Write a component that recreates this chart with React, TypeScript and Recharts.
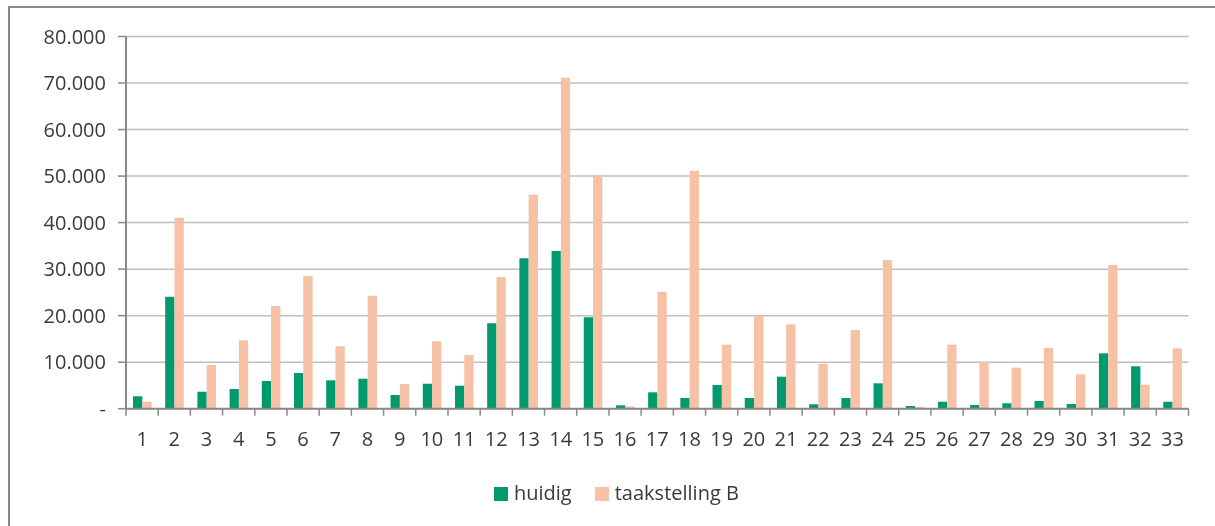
import { BarChart, Bar, XAxis, YAxis, CartesianGrid } from "recharts";

const categories = [
  "1", "2", "3", "4", "5", "6", "7", "8", "9", "10", "11",
  "12", "13", "14", "15", "16", "17", "18", "19", "20", "21", "22",
  "23", "24", "25", "26", "27", "28", "29", "30", "31", "32", "33",
];

const huidig = [
  2670, 24070, 3650, 4230, 5950, 7670, 6100, 6450, 2940, 5370, 4940,
  18350, 32330, 33900, 19640, 730, 3520, 2300, 5090, 2300, 6880, 950,
  2300, 5460, 580, 1500, 800, 1160, 1650, 1010, 11900, 9110, 1500,
];

const taakstellingB = [
  1500, 41050, 9390, 14700, 22070, 28520, 13410, 24290, 5310, 14490, 11540,
  28310, 46000, 71140, 50100, 500, 25150, 51160, 13760, 19920, 18140, 9670,
  16920, 31960, 370, 13760, 10040, 8810, 13050, 7390, 30890, 5160, 12980,
];

const yTicks = [0, 10000, 20000, 30000, 40000, 50000, 60000, 70000, 80000];

const SERIES = [
  { key: "huidig", label: "huidig", color: "#009A6E" },
  { key: "taakstellingB", label: "taakstelling B", color: "#F7C1A5" },
];

const data = categories.map((name, i) => ({
  name,
  huidig: huidig[i],
  taakstellingB: taakstellingB[i],
}));

const FONT = "'Open Sans', sans-serif";
const TEXT = "#3a3a3a";
const AXIS = "#898989";
const FS = 20;

const W = 1207;
const H = 520;
const MARGIN = { top: 30.5, right: 26.5, bottom: 77.3, left: 0 };
const Y_WIDTH = 118;
const PLOT_W = W - MARGIN.left - MARGIN.right - Y_WIDTH;
const BAND = PLOT_W / categories.length;

const fmtY = (v: number) => (v === 0 ? "-" : `${v / 1000}.000`);

function XTick(props: any) {
  const { x, y, payload, index } = props;
  const last = index === categories.length - 1;
  return (
    <g>
      <line x1={x - BAND / 2} y1={y} x2={x - BAND / 2} y2={y + 7} stroke={AXIS} strokeWidth={1.5} />
      {last && (
        <line x1={x + BAND / 2} y1={y} x2={x + BAND / 2} y2={y + 7} stroke={AXIS} strokeWidth={1.5} />
      )}
      <text x={x} y={y + 37} textAnchor="middle" fontSize={FS} fill={TEXT} fontFamily={FONT}>
        {payload.value}
      </text>
    </g>
  );
}

export default function App() {
  return (
    <div
      style={{
        position: "fixed",
        left: 8,
        top: 6,
        width: W,
        height: H,
        fontFamily: FONT,
        overflow: "hidden",
      }}
    >
      <BarChart width={W} height={H} data={data} margin={MARGIN} barGap={0} barSize={9.3}>
        <CartesianGrid vertical={false} stroke="#BFBFBF" strokeWidth={1.5} />
        <XAxis
          dataKey="name"
          height={40}
          tickSize={0}
          tickMargin={0}
          interval={0}
          tickLine={false}
          axisLine={{ stroke: AXIS, strokeWidth: 2 }}
          tick={<XTick />}
        />
        <YAxis
          width={Y_WIDTH}
          domain={[0, 80000]}
          ticks={yTicks}
          interval={0}
          tickFormatter={fmtY}
          tickSize={8}
          tickMargin={12}
          tickLine={{ stroke: AXIS, strokeWidth: 1.5 }}
          axisLine={{ stroke: AXIS, strokeWidth: 2 }}
          tick={{ fontSize: FS, fill: TEXT, fontFamily: FONT }}
        />
        {SERIES.map((s) => (
          <Bar key={s.key} dataKey={s.key} name={s.label} fill={s.color} isAnimationActive={false} />
        ))}
      </BarChart>
      {/* frame: only top and left edges fall inside the window */}
      <div style={{ position: "absolute", left: 0, top: 0, width: W, height: 2, background: AXIS }} />
      <div style={{ position: "absolute", left: 0, top: 0, width: 2, height: H, background: AXIS }} />
      <div
        style={{
          position: "absolute",
          left: 486,
          top: 474,
          display: "flex",
          alignItems: "center",
          fontSize: FS,
          lineHeight: "26px",
          color: TEXT,
        }}
      >
        {SERIES.map((s, i) => (
          <div key={s.key} style={{ display: "flex", alignItems: "center", marginLeft: i === 0 ? 0 : 23 }}>
            <span style={{ width: 14, height: 14, background: s.color, marginRight: 6, marginTop: 2 }} />
            <span>{s.label}</span>
          </div>
        ))}
      </div>
    </div>
  );
}
